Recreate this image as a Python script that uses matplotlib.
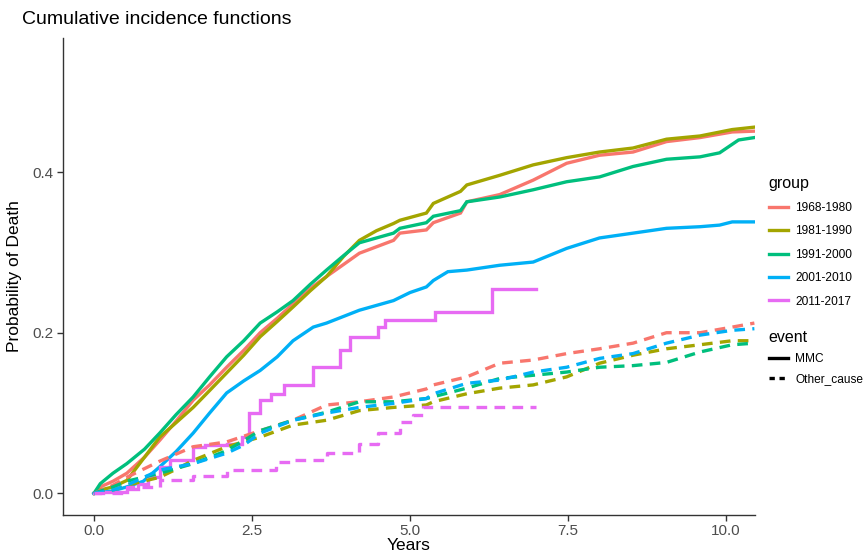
import matplotlib
matplotlib.use("Agg")
import matplotlib.pyplot as plt
from matplotlib.lines import Line2D

plt.rcParams['font.family'] = ['Liberation Sans', 'DejaVu Sans']

groups = ["1968-1980", "1981-1990", "1991-2000", "2001-2010", "2011-2017"]
colors = ["#F8766D", "#A3A500", "#00BF7D", "#00B0F6", "#E76BF3"]

# MMC (solid) cumulative incidence: times and values
mmc_t = {
    "1968-1980": [0, 0.1, 0.3, 0.52, 0.8, 1.04, 1.3, 1.57, 1.83, 2.1, 2.37, 2.63, 2.9, 3.15, 3.42, 3.68, 3.95, 4.2, 4.47, 4.74, 4.84, 5.26, 5.37, 5.8, 5.9, 6.42, 6.95, 7.48, 8.0, 8.53, 9.06, 9.59, 10.1, 10.45],
    "1981-1990": [0, 0.1, 0.3, 0.52, 0.8, 1.04, 1.3, 1.57, 1.83, 2.1, 2.37, 2.63, 2.9, 3.15, 3.42, 3.68, 3.95, 4.2, 4.47, 4.74, 4.84, 5.26, 5.37, 5.8, 5.9, 6.42, 6.95, 7.48, 8.0, 8.53, 9.06, 9.59, 10.1, 10.45],
    "1991-2000": [0, 0.1, 0.3, 0.52, 0.8, 1.04, 1.3, 1.57, 1.83, 2.1, 2.37, 2.63, 2.9, 3.15, 3.42, 3.68, 3.95, 4.2, 4.47, 4.74, 4.84, 5.26, 5.37, 5.8, 5.9, 6.42, 6.95, 7.48, 8.0, 8.53, 9.06, 9.59, 9.9, 10.2, 10.45],
    "2001-2010": [0, 0.3, 0.52, 0.78, 1.04, 1.3, 1.57, 1.83, 2.1, 2.37, 2.63, 2.9, 3.15, 3.47, 3.68, 4.2, 4.74, 5.0, 5.26, 5.37, 5.6, 5.9, 6.42, 6.95, 7.2, 7.48, 8.0, 8.53, 9.06, 9.59, 9.9, 10.1, 10.45],
    "2011-2017": [0, 0.1, 0.52, 0.7, 0.85, 1.04, 1.2, 1.57, 1.75, 2.1, 2.35, 2.46, 2.63, 2.8, 3.0, 3.47, 3.9, 4.05, 4.5, 4.6, 5.4, 6.3, 7.0],
}
mmc_v = {
    "1968-1980": [0, 0.008, 0.015, 0.025, 0.045, 0.066, 0.09, 0.116, 0.135, 0.157, 0.178, 0.2, 0.218, 0.236, 0.255, 0.27, 0.285, 0.299, 0.307, 0.315, 0.324, 0.328, 0.337, 0.349, 0.363, 0.372, 0.39, 0.411, 0.421, 0.425, 0.438, 0.443, 0.45, 0.451],
    "1981-1990": [0, 0.004, 0.008, 0.016, 0.045, 0.07, 0.088, 0.107, 0.128, 0.15, 0.172, 0.195, 0.214, 0.232, 0.252, 0.27, 0.295, 0.315, 0.327, 0.336, 0.34, 0.349, 0.361, 0.376, 0.384, 0.396, 0.409, 0.418, 0.425, 0.43, 0.441, 0.445, 0.453, 0.456],
    "1991-2000": [0, 0.012, 0.025, 0.037, 0.055, 0.075, 0.098, 0.12, 0.145, 0.17, 0.19, 0.212, 0.226, 0.24, 0.26, 0.278, 0.296, 0.312, 0.318, 0.324, 0.33, 0.337, 0.345, 0.352, 0.363, 0.369, 0.378, 0.388, 0.394, 0.407, 0.416, 0.419, 0.424, 0.44, 0.443],
    "2001-2010": [0, 0.003, 0.008, 0.015, 0.033, 0.052, 0.075, 0.1, 0.125, 0.14, 0.153, 0.17, 0.19, 0.207, 0.212, 0.228, 0.24, 0.25, 0.257, 0.265, 0.276, 0.278, 0.284, 0.288, 0.296, 0.305, 0.318, 0.324, 0.33, 0.332, 0.334, 0.338, 0.338],
    "2011-2017": [0, 0.002, 0.006, 0.012, 0.02, 0.033, 0.042, 0.058, 0.06, 0.062, 0.07, 0.1, 0.116, 0.124, 0.135, 0.157, 0.178, 0.195, 0.207, 0.216, 0.226, 0.254, 0.254],
}

# Other_cause (dashed) cumulative incidence
oth_t = {
    "1968-1980": [0, 0.3, 0.52, 1.04, 1.57, 2.1, 2.63, 3.15, 3.68, 4.2, 4.74, 5.26, 5.37, 5.9, 6.42, 6.95, 7.48, 8.0, 8.53, 9.06, 9.59, 10.1, 10.45],
    "1981-1990": [0, 0.3, 0.52, 1.04, 1.3, 1.57, 2.1, 2.63, 3.15, 3.68, 4.2, 4.74, 5.26, 5.37, 5.9, 6.42, 6.95, 7.48, 8.0, 8.53, 9.06, 9.59, 10.1, 10.45],
    "1991-2000": [0, 0.3, 0.52, 1.04, 1.57, 2.1, 2.63, 3.15, 3.68, 4.2, 4.74, 5.26, 5.9, 6.42, 6.95, 7.48, 8.0, 8.53, 9.06, 9.59, 10.1, 10.45],
    "2001-2010": [0, 0.3, 0.52, 1.04, 1.57, 2.1, 2.37, 2.63, 3.15, 3.68, 4.2, 4.74, 5.26, 5.37, 5.9, 6.42, 6.95, 7.48, 8.0, 8.53, 9.06, 9.59, 10.1, 10.45],
    "2011-2017": [0, 0.52, 1.04, 1.57, 2.1, 2.88, 3.15, 3.68, 4.2, 4.5, 4.84, 5.05, 5.2, 7.0],
}
oth_v = {
    "1968-1980": [0, 0.01, 0.02, 0.04, 0.058, 0.064, 0.078, 0.091, 0.11, 0.114, 0.12, 0.13, 0.135, 0.145, 0.162, 0.166, 0.174, 0.18, 0.187, 0.2, 0.2, 0.207, 0.212],
    "1981-1990": [0, 0.004, 0.01, 0.02, 0.03, 0.041, 0.058, 0.07, 0.085, 0.091, 0.103, 0.107, 0.11, 0.114, 0.124, 0.131, 0.135, 0.145, 0.162, 0.172, 0.18, 0.185, 0.19, 0.19],
    "1991-2000": [0, 0.008, 0.015, 0.025, 0.037, 0.053, 0.078, 0.091, 0.101, 0.114, 0.114, 0.118, 0.131, 0.143, 0.147, 0.151, 0.157, 0.159, 0.163, 0.176, 0.185, 0.187],
    "2001-2010": [0, 0.004, 0.01, 0.029, 0.037, 0.05, 0.06, 0.075, 0.091, 0.1, 0.107, 0.112, 0.118, 0.124, 0.137, 0.141, 0.151, 0.157, 0.168, 0.174, 0.187, 0.197, 0.203, 0.205],
    "2011-2017": [0, 0.008, 0.016, 0.022, 0.029, 0.039, 0.041, 0.05, 0.062, 0.075, 0.089, 0.097, 0.107, 0.107],
}

x_ticks = [0.0, 2.5, 5.0, 7.5, 10.0]
x_ticklabels = ["0.0", "2.5", "5.0", "7.5", "10.0"]
y_ticks = [0.0, 0.2, 0.4]
y_ticklabels = ["0.0", "0.2", "0.4"]

fig = plt.figure(figsize=(8.66, 5.57), dpi=100)
ax = fig.add_axes([63/866, 1-515/557, (755-63)/866, (515-38)/557])

LW = 2.4
DASH = (3.2, 2.2)
# the most recent cohort has few events, so its steps are drawn; the others have
# very dense tiny steps that read as a continuous curve
for g, c in zip(groups, colors):
    ds = "steps-post" if g == "2011-2017" else "default"
    ax.plot(mmc_t[g], mmc_v[g], drawstyle=ds, color=c, lw=LW, solid_joinstyle="miter")
for g, c in zip(groups, colors):
    ds = "steps-post" if g == "2011-2017" else "default"
    ax.plot(oth_t[g], oth_v[g], drawstyle=ds, color=c, lw=LW, linestyle=(0, DASH))

ax.set_xlim(-0.49, 10.46)
ax.set_ylim(-0.027, 0.567)
ax.set_xticks(x_ticks)
ax.set_xticklabels(x_ticklabels)
ax.set_yticks(y_ticks)
ax.set_yticklabels(y_ticklabels)
for s in ["top", "right"]:
    ax.spines[s].set_visible(False)
for s in ["left", "bottom"]:
    ax.spines[s].set_color("#333333")
    ax.spines[s].set_linewidth(1.0)
ax.tick_params(axis="both", colors="#333333", labelcolor="#4D4D4D", labelsize=11, length=4, width=1.0, pad=2.5)
ax.set_xlabel("Years", fontsize=12.5, color="black", labelpad=0)
ax.set_ylabel("Probability of Death", fontsize=12.5, color="black", labelpad=8)
fig.text(22/866, 1-20/557, "Cumulative incidence functions", fontsize=14, ha="left", va="center")

gh = [Line2D([0], [0], color=c, lw=LW) for c in colors]
leg1 = ax.legend(gh, groups, title="group", loc="upper left", bbox_to_anchor=(764/866, 1-171/557),
                 bbox_transform=fig.transFigure, frameon=False, fontsize=8.6, title_fontsize=11.5,
                 handlelength=1.6, handletextpad=0.6, labelspacing=0.95, alignment="left", borderaxespad=0)
ax.add_artist(leg1)
eh = [Line2D([0], [0], color="black", lw=LW), Line2D([0], [0], color="black", lw=LW, linestyle=(0, (1.6, 1.4)))]
leg2 = ax.legend(eh, ["MMC", "Other_cause"], title="event", loc="upper left", bbox_to_anchor=(764/866, 1-325/557),
                 bbox_transform=fig.transFigure, frameon=False, fontsize=8.6, title_fontsize=11.5,
                 handlelength=1.6, handletextpad=0.6, labelspacing=0.7, alignment="left", borderaxespad=0)

fig.savefig("out.png", dpi=100)
